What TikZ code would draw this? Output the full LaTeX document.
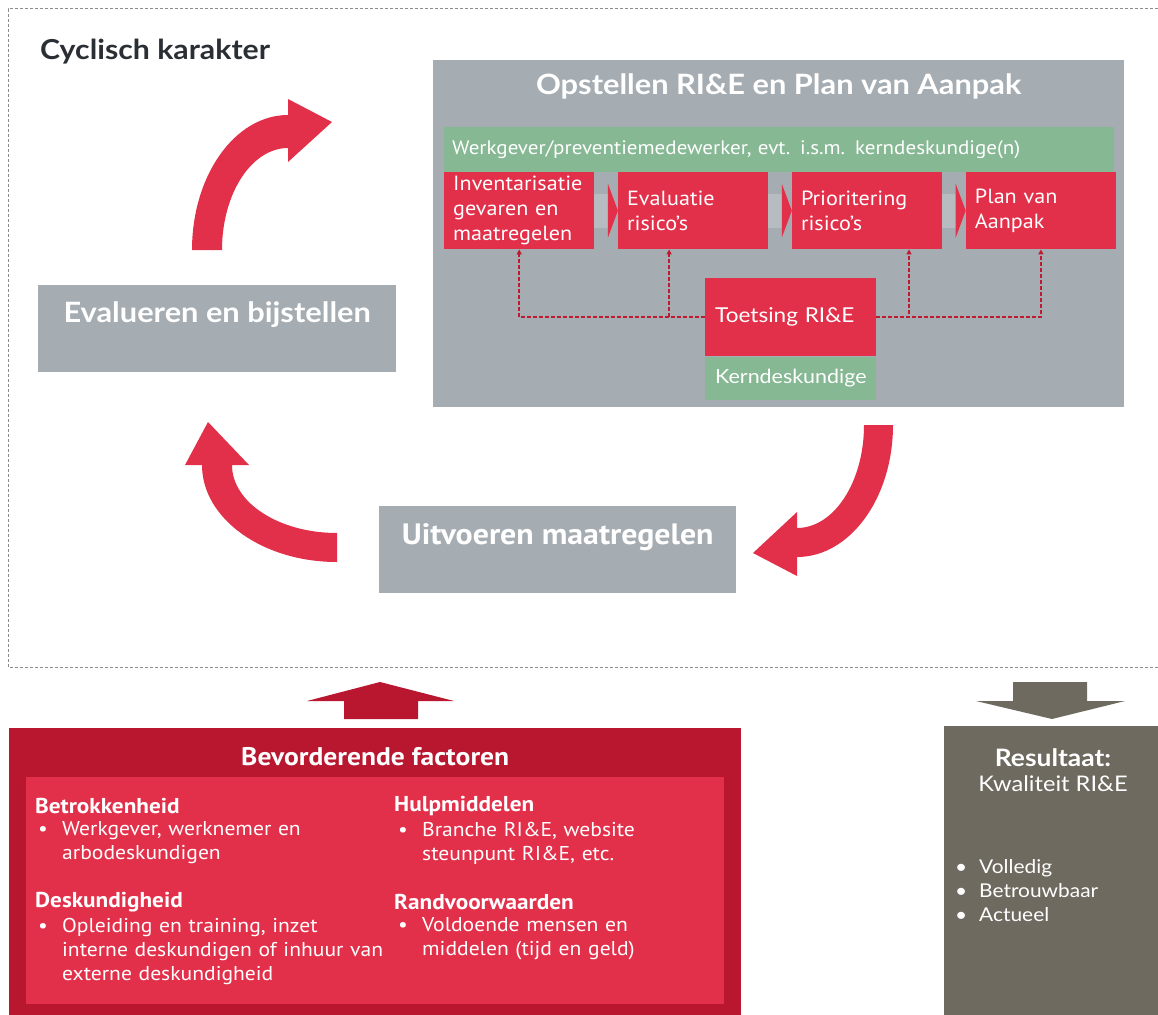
\documentclass[tikz,border=0pt]{standalone}
\usepackage{fontspec}
\setmainfont{Lato}[FakeStretch=1.1]
\newfontfamily\rofont{PT Sans}[FakeStretch=1.08]
\usetikzlibrary{positioning,arrows.meta,calc}

\definecolor{riered}{HTML}{E3304A}
\definecolor{riedark}{HTML}{B8172F}
\definecolor{riegrey}{HTML}{A6ADB2}
\definecolor{rieshaft}{HTML}{B6BCC0}
\definecolor{riegreen}{HTML}{85B893}
\definecolor{riebrown}{HTML}{6E6A60}
\definecolor{rieink}{HTML}{2A2E35}
\definecolor{rieframe}{HTML}{8C8C8C}

\begin{document}
\begin{tikzpicture}[x=1pt,y=-1pt,
    box/.style={anchor=north west, inner sep=0pt, draw=none},
    greybox/.style={box, fill=riegrey},
    stepbox/.style={box, fill=riered, text=white, minimum height=77pt,
      text width=132pt, inner xsep=9pt, align=left,
      font=\rofont\fontsize{20.5}{25}\selectfont},
    testbox/.style={box, fill=riered, text=white, minimum height=78pt,
      text width=151pt, inner xsep=10pt, align=left,
      font=\fontsize{20.5}{25}\selectfont},
    kernbox/.style={testbox, fill=riegreen, minimum height=43pt,
      font=\fontsize{19.5}{24}\selectfont},
    whitetitle/.style={text=white, inner sep=0pt, font=\bfseries\fontsize{28}{30}\selectfont},
    rotitle/.style={text=white, inner sep=0pt, font=\rofont\bfseries\fontsize{29.5}{32}\selectfont},
    checkline/.style={draw=riedark!85!riered, line width=1.5pt, dash pattern=on 4pt off 2pt,
      -{Triangle[length=5pt,width=5pt]}},
    cyclearrow/.style={fill=riered},
    facthead/.style={anchor=west, inner sep=0pt, text=white,
      font=\rofont\bfseries\fontsize{21.5}{24}\selectfont},
    factlist/.style={anchor=west, inner sep=0pt, text=white, align=left,
      text width=355pt, font=\rofont\fontsize{20}{24}\selectfont}
  ]

  \useasboundingbox (0,0) rectangle (1158,1014);

  % frame round the cycle
  \draw[rieframe, line width=1pt, dash pattern=on 3pt off 2pt]
    (1158,9) -- (8,9) -- (8,667) -- (1158,667);

  \node[anchor=west, inner sep=0pt, text=rieink, font=\bfseries\fontsize{27.5}{30}\selectfont]
    (cyc) at (40,52) {Cyclisch karakter};

  % RI&E en Plan van Aanpak
  \node[greybox, minimum width=691pt, minimum height=347pt] (opstel) at (433,60) {};
  \node[whitetitle] (opsteltxt) at ($(opstel.north)+(0,26)$) {Opstellen RI\&E en Plan van Aanpak};

  \node[box, fill=riegreen, text=white, minimum height=45pt, text width=654pt,
    inner xsep=8pt, align=left, font=\rofont\fontsize{19.5}{24}\selectfont]
    (wg) at (444,127) {Werkgever/preventiemedewerker, evt. i.s.m. kerndeskundige(n)};

  \node[stepbox] (inv) at (444,172) {Inventarisatie\\gevaren en\\maatregelen};
  \node[stepbox, right=23.5pt of inv] (eval) {Evaluatie\\risico’s};
  \node[stepbox, right=23.5pt of eval] (prio) {Prioritering\\risico’s};
  \node[stepbox, right=23.5pt of prio] (plan) {Plan van\\Aanpak};

  \foreach \a/\b in {inv/eval, eval/prio, prio/plan} {
    \fill[rieshaft] ($(\a.east)+(0,-17)$) rectangle ($(\b.west)+(-10,17)$);
    \fill[riered] ($(\b.west)+(-10,-27)$) -- (\b.west) -- ($(\b.west)+(-10,27)$) -- cycle;
  }

  \node[testbox] (toets) at (705,278) {Toetsing RI\&E};
  \node[kernbox, below=0pt of toets] (kern) {Kerndeskundige};

  \draw[checkline] (toets.west) -| (inv.south);
  \draw[checkline] (toets.west) -| ([xshift=-24pt]eval.south);
  \draw[checkline] (toets.east) -| ([xshift=42pt]prio.south);
  \draw[checkline] (toets.east) -| (plan.south);

  % the other two steps
  \node[greybox, minimum width=358pt, minimum height=87pt] (evalbox) at (38,285) {};
  \node[whitetitle] (evaltxt) at ($(evalbox.north)+(0,30)$) {Evalueren en bijstellen};
  \node[greybox, minimum width=357pt, minimum height=87pt] (uitv) at (379,506) {};
  \node[rotitle] (uitvtxt) at ($(uitv.north)+(0,31)$) {Uitvoeren maatregelen};

  % cycle arrows
  \fill[cyclearrow] (192,250) arc[start angle=180, end angle=270, x radius=96, y radius=135]
    -- (288,99) -- (332,122) -- (288,162) -- (288,148)
    arc[start angle=270, end angle=180, x radius=66, y radius=102] -- cycle;
  \fill[cyclearrow] (893,425) arc[start angle=0, end angle=90, x radius=96, y radius=132]
    -- (797,576) -- (753,553) -- (797,512) -- (797,528)
    arc[start angle=90, end angle=0, x radius=67, y radius=103] -- cycle;
  \fill[cyclearrow] (337,562) arc[start angle=90, end angle=180, x radius=135, y radius=97]
    -- (185,465) -- (208,422) -- (249,465) -- (232,465)
    arc[start angle=180, end angle=90, x radius=105, y radius=68] -- cycle;

  % bevorderende factoren
  \fill[riedark] (344,719) -- (344,701) -- (307,701) -- (380,682) -- (454,701)
    -- (418,701) -- (418,719) -- cycle;
  \node[box, fill=riedark, minimum width=732pt, minimum height=292pt] (factor) at (9,728) {};
  \node[rotitle, font=\rofont\bfseries\fontsize{25.5}{28}\selectfont]
    (facttxt) at ($(factor.north)+(0,29)$) {Bevorderende factoren};
  \node[box, fill=riered, minimum width=698pt, minimum height=227pt] (factin) at (26,777) {};

  \node[facthead] (betr) at (35,806) {Betrokkenheid};
  \node[factlist] (betrtxt) at (35,843)
    {\makebox[27pt][l]{\hspace{3pt}•}Werkgever, werknemer en\\\hspace*{27pt}arbodeskundigen};
  \node[facthead] (desk) at (35,902) {Deskundigheid};
  \node[factlist] (desktxt) at (35,951)
    {\makebox[27pt][l]{\hspace{3pt}•}Opleiding en training, inzet\\\hspace*{27pt}interne deskundigen of inhuur van\\\hspace*{27pt}externe deskundigheid};
  \node[facthead] (hulp) at (394,806) {Hulpmiddelen};
  \node[factlist] (hulptxt) at (394,843)
    {\makebox[28pt][l]{\hspace{4pt}•}Branche RI\&E, website\\\hspace*{28pt}steunpunt RI\&E, etc.};
  \node[facthead] (rand) at (394,902) {Randvoorwaarden};
  \node[factlist] (randtxt) at (394,939)
    {\makebox[28pt][l]{\hspace{4pt}•}Voldoende mensen en\\\hspace*{28pt}middelen (tijd en geld)};

  % resultaat
  \fill[riebrown] (1013,682) -- (1087,682) -- (1087,701) -- (1125,701) -- (1052,719)
    -- (976,701) -- (1013,701) -- cycle;
  \node[box, fill=riebrown, minimum width=220pt, minimum height=294pt] (result) at (944,726) {};
  \node[inner sep=0pt, text=white, font=\bfseries\fontsize{24}{26}\selectfont]
    (restitle) at (1053,758) {Resultaat:};
  \node[inner sep=0pt, text=white, font=\fontsize{21.5}{25}\selectfont]
    (reskwal) at (1053,784) {Kwaliteit RI\&E};
  \node[anchor=west, inner sep=0pt, text=white, align=left, text width=180pt,
    font=\fontsize{19}{24}\selectfont] (reslist) at (952,891)
    {\makebox[27pt][l]{\hspace{3pt}•}Volledig\\\makebox[27pt][l]{\hspace{3pt}•}Betrouwbaar\\\makebox[27pt][l]{\hspace{3pt}•}Actueel};

\end{tikzpicture}
\end{document}
